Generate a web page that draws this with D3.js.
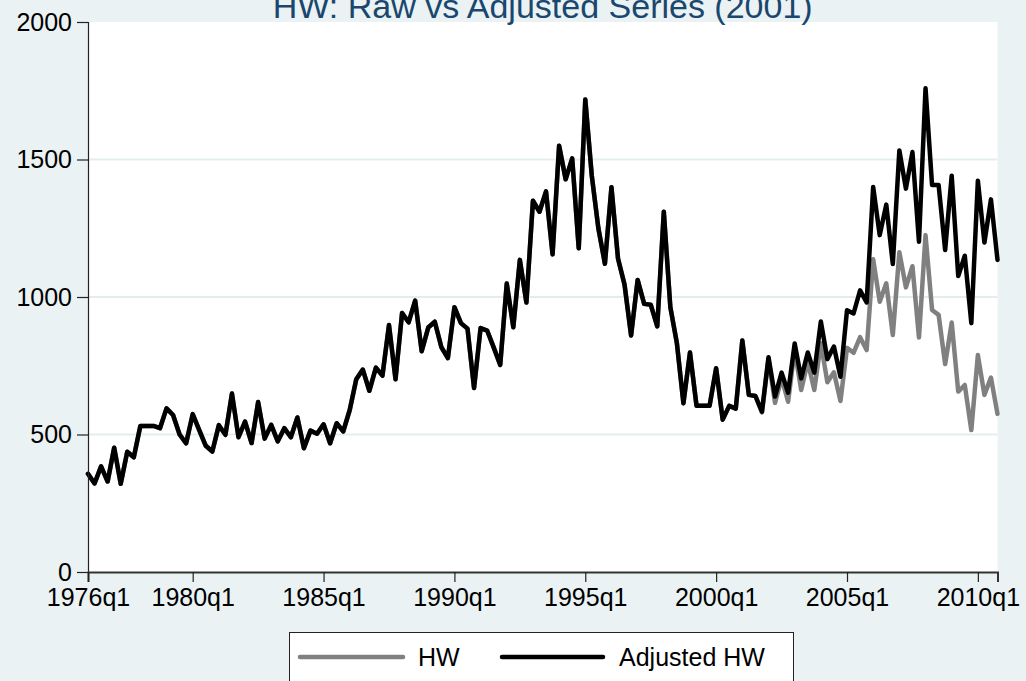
<!DOCTYPE html>
<html>
<head>
<meta charset="utf-8">
<script src="https://cdn.jsdelivr.net/npm/d3@7"></script>
<style>
html,body{margin:0;padding:0;background:#eaf2f3;}
svg{display:block;font-family:"Liberation Sans",Arial,sans-serif;}
</style>
</head>
<body>
<svg id="chart" width="1026" height="681"></svg>
<script>
// ---- data ----
const startYear = 1976;
const quarters = [];
for (let i = 0; i < 140; i++) quarters.push((startYear + Math.floor(i / 4)) + "q" + (i % 4 + 1));

const adjustedHW = [
 357,322,384,329,452,321,437,417,531,531,531,523,595,571,500,468,574,516,459,438,
 534,499,649,490,547,469,618,485,535,475,523,490,562,450,514,503,537,468,541,511,
 589,701,736,659,743,714,898,701,942,908,987,803,889,910,818,778,963,905,885,669,
 887,878,817,753,1049,890,1135,980,1350,1310,1384,1155,1550,1428,1504,1177,1718,1440,1250,1121,
 1399,1140,1045,860,1062,975,972,893,1310,963,832,614,798,605,605,605,741,554,604,594,
 842,644,640,583,781,638,725,652,831,704,798,725,911,774,820,710,952,940,1024,980,
 1400,1225,1336,1120,1533,1394,1527,1201,1759,1407,1407,1171,1441,1076,1150,905,1423,1198,1355,1135
];
const rawHW = [
 357,322,384,329,452,321,437,417,531,531,531,523,595,571,500,468,574,516,459,438,
 534,499,649,490,547,469,618,485,535,475,523,490,562,450,514,503,537,468,541,511,
 589,701,736,659,743,714,898,701,942,908,987,803,889,910,818,778,963,905,885,669,
 887,878,817,753,1049,890,1135,980,1350,1310,1384,1155,1550,1428,1504,1177,1718,1440,1250,1121,
 1399,1140,1045,860,1062,975,972,893,1310,963,832,614,798,605,605,605,741,554,604,594,
 842,644,640,580,775,615,705,619,807,662,765,662,832,690,726,622,815,797,854,807,
 1137,983,1050,862,1163,1035,1112,853,1225,953,935,756,907,656,680,516,789,644,707,575
];
const xTickLabels = ["1976q1","1980q1","1985q1","1990q1","1995q1","2000q1","2005q1","2010q1"];
const yTicks = [0,500,1000,1500,2000];
const seriesNames = ["HW","Adjusted HW"];
const titleText = "HW: Raw vs Adjusted Series (2001)";

// ---- layout ----
const svg = d3.select("#chart");
const W = 1026, H = 681;
const plot = {left: 88, right: 997.5, top: 22, bottom: 572};

svg.append("rect").attr("width", W).attr("height", H).attr("fill", "#eaf2f3");
svg.append("rect").attr("x", plot.left).attr("y", plot.top)
  .attr("width", plot.right - plot.left).attr("height", plot.bottom - plot.top).attr("fill", "#ffffff");

const x = d3.scaleLinear().domain([0, quarters.length - 1]).range([plot.left, plot.right]);
const y = d3.scaleLinear().domain([0, 2000]).range([plot.bottom, plot.top]);

// gridlines
svg.append("g").selectAll("line").data(yTicks.filter(d => d > 0 && d < 2000)).join("line")
  .attr("x1", plot.left).attr("x2", plot.right)
  .attr("y1", d => y(d)).attr("y2", d => y(d))
  .attr("stroke", "#e3edf0").attr("stroke-width", 2);

// series
const line = d3.line().x((d, i) => x(i)).y(d => y(d)).curve(d3.curveLinear);
svg.append("path").datum(rawHW).attr("d", line)
  .attr("fill", "none").attr("stroke", "#808080").attr("stroke-width", 4.5)
  .attr("stroke-linejoin", "round").attr("stroke-linecap", "round");
svg.append("path").datum(adjustedHW).attr("d", line)
  .attr("fill", "none").attr("stroke", "#000000").attr("stroke-width", 4.5)
  .attr("stroke-linejoin", "round").attr("stroke-linecap", "round");

// y axis
const yAxis = d3.axisLeft(y).tickValues(yTicks).tickFormat(d3.format("d")).tickSize(11).tickPadding(5);
const gy = svg.append("g").attr("transform", `translate(${plot.left},0)`).call(yAxis);
gy.select(".domain").attr("stroke", "#222").attr("stroke-width", 1.2);
gy.selectAll(".tick line").attr("stroke", "#222").attr("stroke-width", 1.2);
gy.selectAll(".tick text").attr("font-size", 25).attr("fill", "#000")
  .attr("font-family", "Liberation Sans, Arial, sans-serif");

// x axis
const xTickIdx = xTickLabels.map(l => quarters.indexOf(l));
const xAxis = d3.axisBottom(x).tickValues(xTickIdx).tickFormat(i => quarters[i]).tickSize(10).tickPadding(6);
const gx = svg.append("g").attr("transform", `translate(0,${plot.bottom})`).call(xAxis);
gx.select(".domain").attr("stroke", "#333").attr("stroke-width", 2);
gx.selectAll(".tick line").attr("stroke", "#222").attr("stroke-width", 1.2);
gx.selectAll(".tick text").attr("font-size", 25).attr("fill", "#000")
  .attr("font-family", "Liberation Sans, Arial, sans-serif");

// title
svg.append("text").attr("x", (plot.left + plot.right) / 2).attr("y", 18)
  .attr("text-anchor", "middle").attr("font-size", 34).attr("fill", "#1a476f")
  .text(titleText);

// legend
const lg = svg.append("g");
lg.append("rect").attr("x", 289.5).attr("y", 632.5).attr("width", 504).attr("height", 60)
  .attr("fill", "#ffffff").attr("stroke", "#222").attr("stroke-width", 1);
const legendItems = [
  {name: seriesNames[0], color: "#808080", x1: 300, x2: 403, tx: 418},
  {name: seriesNames[1], color: "#000000", x1: 502, x2: 603, tx: 619}
];
legendItems.forEach(it => {
  lg.append("line").attr("x1", it.x1).attr("x2", it.x2).attr("y1", 657).attr("y2", 657)
    .attr("stroke", it.color).attr("stroke-width", 4.5).attr("stroke-linecap", "round");
  lg.append("text").attr("x", it.tx).attr("y", 666).attr("font-size", 25).attr("fill", "#000")
    .text(it.name);
});
</script>
</body>
</html>
